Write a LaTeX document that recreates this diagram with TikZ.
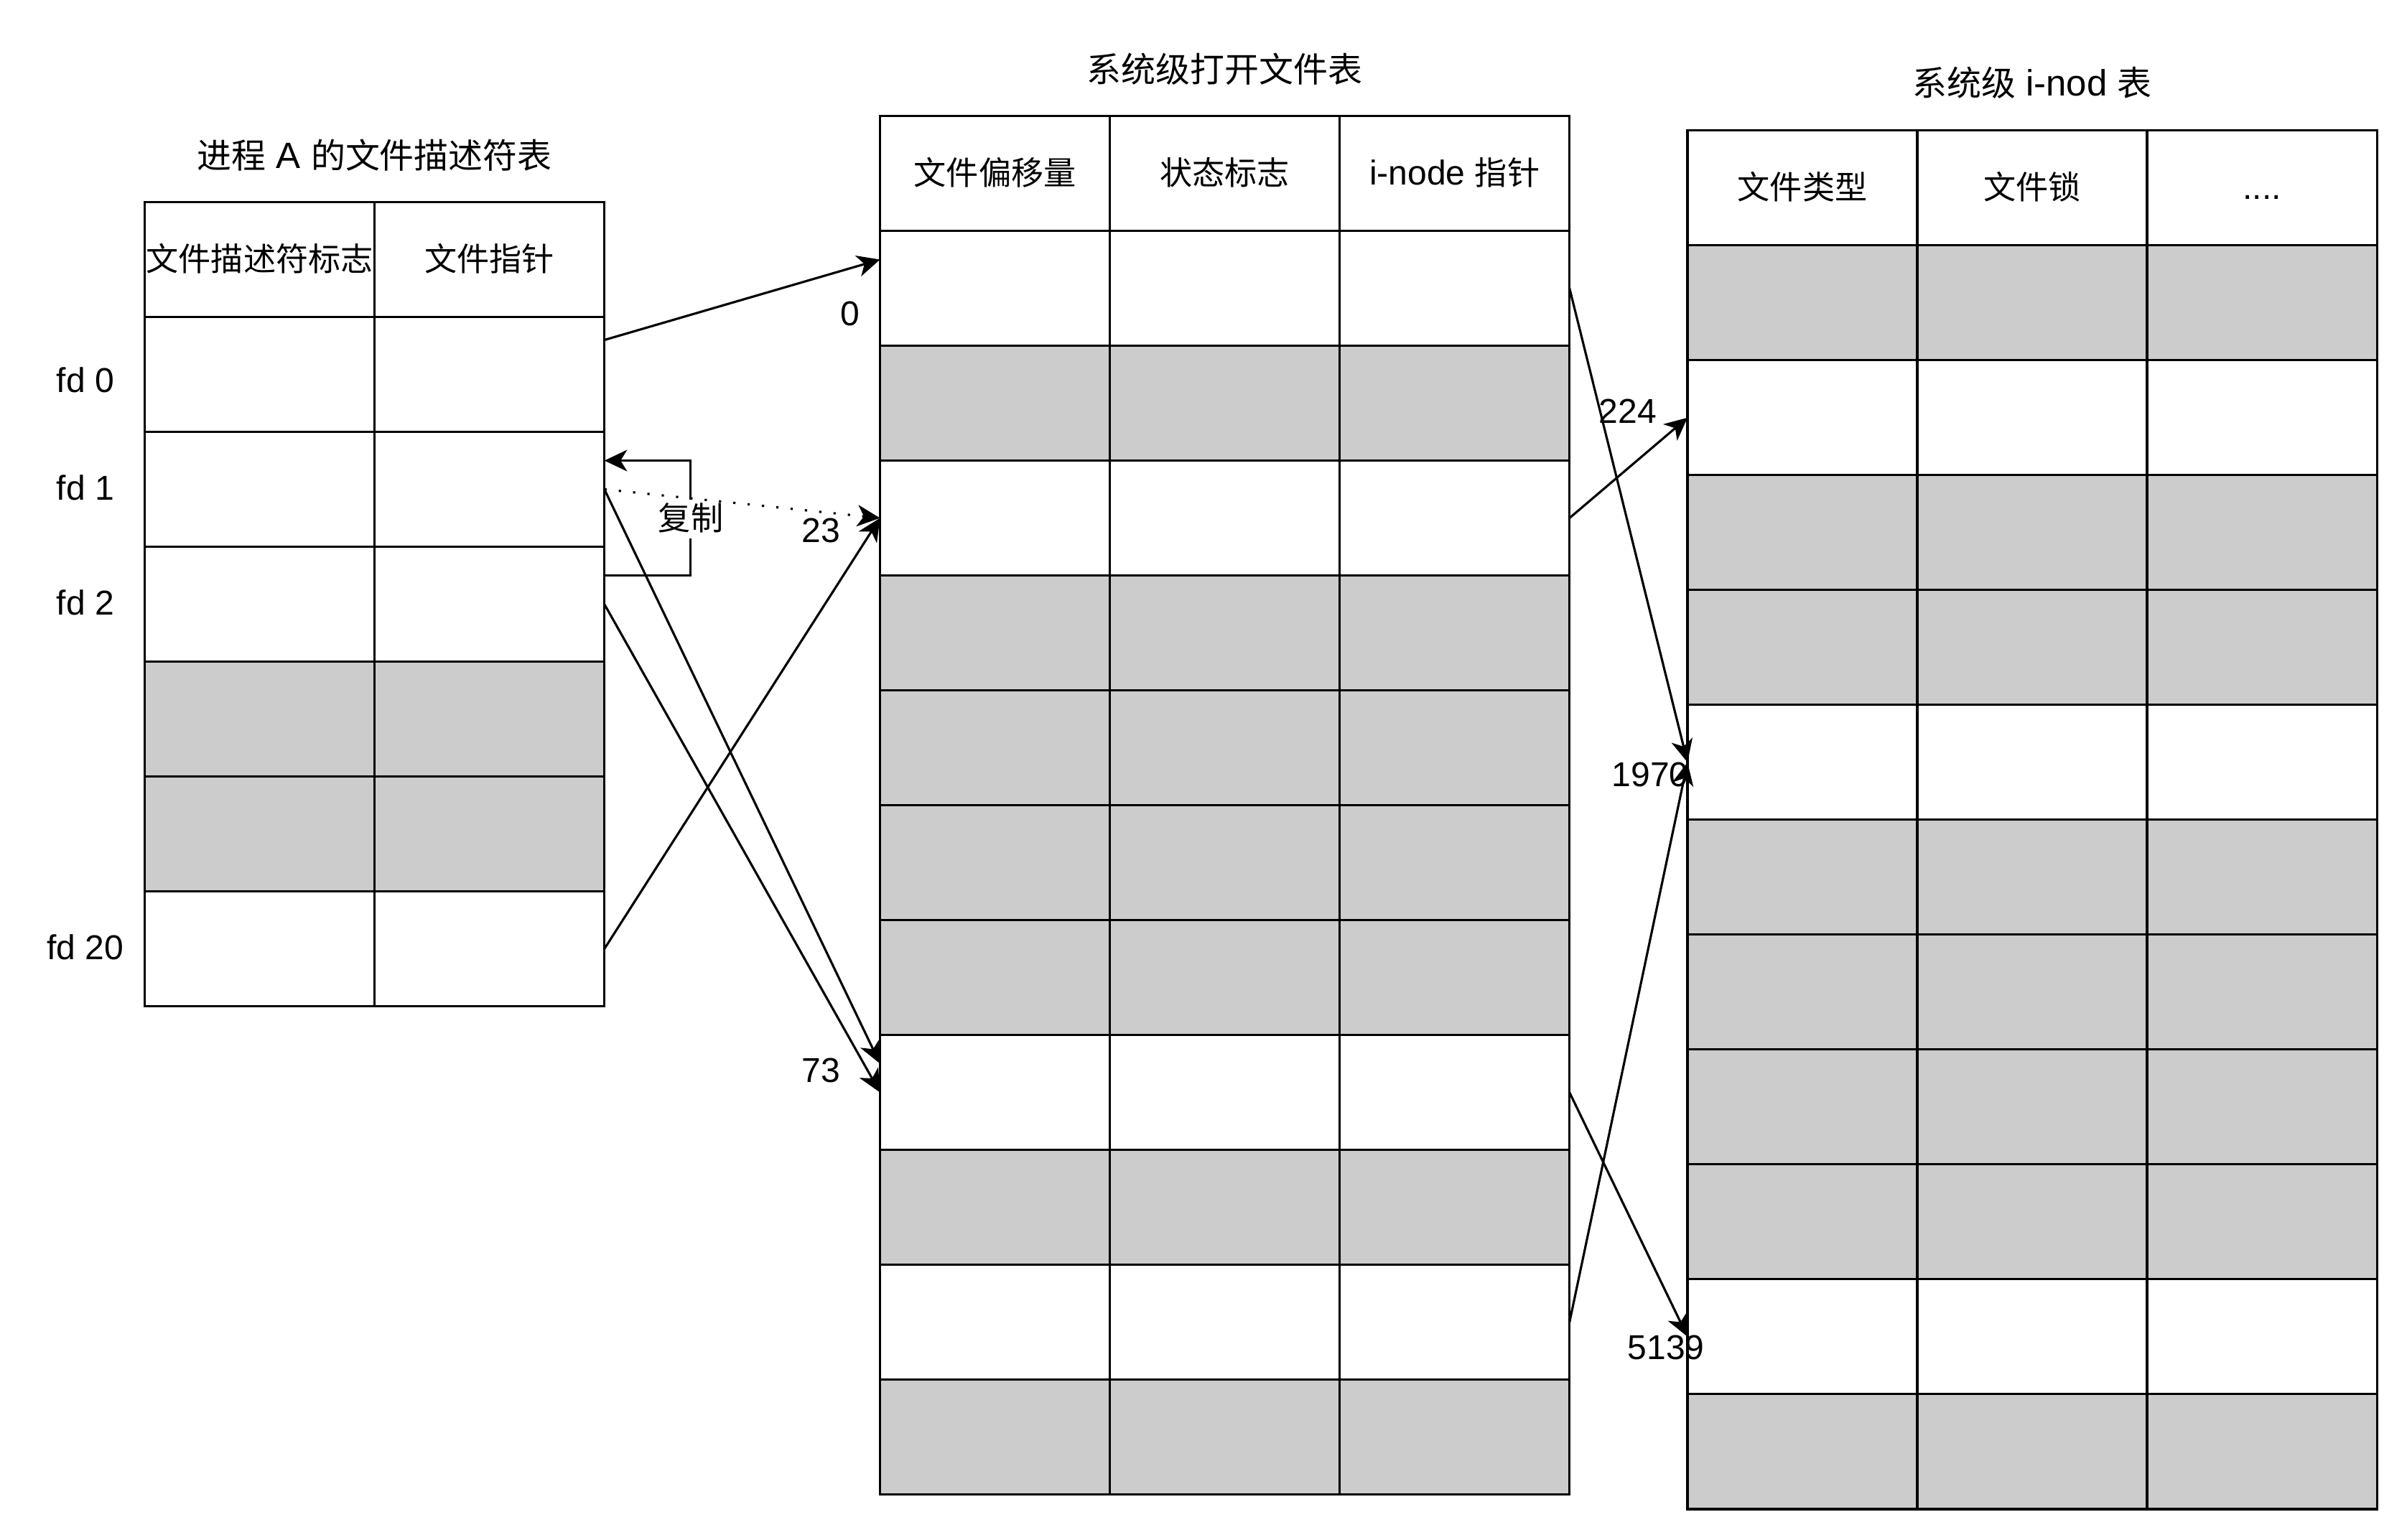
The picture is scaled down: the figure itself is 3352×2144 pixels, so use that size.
\documentclass[tikz,border=0pt]{standalone}
\usepackage{fontspec}
\setmainfont{Liberation Sans}
\newfontfamily\cjk[Scale=0.94]{Noto Sans CJK SC}
\usetikzlibrary{arrows.meta,calc}
\definecolor{cellgray}{HTML}{CCCCCC}
\tikzset{
  txt/.style={font=\fontsize{13.66pt}{16pt}\selectfont, text height=11.3pt, text depth=2.3pt, inner sep=0pt},
  ttl/.style={font=\fontsize{14.5pt}{17pt}\selectfont, text height=12pt, text depth=2.5pt, inner sep=0pt},
  cell/.style={txt, draw=black, line width=0.95pt, minimum width=3.2cm, minimum height=1.6cm, anchor=north west, outer sep=0pt},
  arr/.style={-{Stealth[length=9pt,width=8.5pt,inset=2.6pt]}, line width=0.9pt, draw=black},
  dotarr/.style={arr, dash pattern=on 0.9pt off 4.8pt},
  lbl/.style={txt},
}
\begin{document}
\begin{tikzpicture}[x=0.01cm,y=-0.01cm]
\useasboundingbox (0,0) rectangle (3352,2144);

% ---------- left table: process A fd table ----------
\node[cell] (L-0-0) at (201.5,281.5) {{\cjk 文件描述符标志}};
\node[cell] (L-0-1) at (521.5,281.5) {{\cjk 文件指针}};
\foreach \f [count=\r] in {white,white,white,cellgray,cellgray,white}{
  \foreach \c in {0,1}{
    \node[cell,fill=\f] (L-\r-\c) at ({201.5+320*\c},{281.5+160*\r}) {};
  }
}
\node[ttl] (tL) at (521.75,218) {{\cjk 进程} A {\cjk 的文件描述符表}};
\node[lbl] (fd0) at (119,531) {fd 0};
\node[lbl] (fd1) at (119,681) {fd 1};
\node[lbl] (fd2) at (119,841) {fd 2};
\node[lbl] (fd20) at (119,1321) {fd 20};

% ---------- middle table: open file table ----------
\node[cell] (M-0-0) at (1225.5,161.5) {{\cjk 文件偏移量}};
\node[cell] (M-0-1) at (1545.5,161.5) {{\cjk 状态标志}};
\node[cell] (M-0-2) at (1865.5,161.5) {i-node {\cjk 指针}};
\foreach \f [count=\r] in {white,cellgray,white,cellgray,cellgray,cellgray,cellgray,white,cellgray,white,cellgray}{
  \foreach \c in {0,1,2}{
    \node[cell,fill=\f] (M-\r-\c) at ({1225.5+320*\c},{161.5+160*\r}) {};
  }
}
\node[ttl] (tM) at (1705.5,98) {{\cjk 系统级打开文件表}};

% ---------- right table: i-node table ----------
\node[cell] (R-0-0) at (2350,181.7) {{\cjk 文件类型}};
\node[cell] (R-0-1) at (2670,181.7) {{\cjk 文件锁}};
\node[cell] (R-0-2) at (2990,181.7) {....};
\foreach \f [count=\r] in {cellgray,white,cellgray,cellgray,white,cellgray,cellgray,cellgray,cellgray,white,cellgray}{
  \foreach \c in {0,1,2}{
    \node[cell,fill=\f] (R-\r-\c) at ({2350+320*\c},{181.7+160*\r}) {};
  }
}
\node[ttl] (tR) at (2830,117) {{\cjk 系统级} i-nod {\cjk 表}};

% ---------- copy loop ----------
\draw[arr] ($(L-3-1.north east)!0.25!(L-3-1.south east)$) -- ++(120,0)
  |- ($(L-2-1.north east)!0.25!(L-2-1.south east)$);
\node[txt, fill=white, inner ysep=1pt] (cp) at (962,723) {{\cjk 复制}};

% ---------- fd table -> open file table ----------
\draw[arr] ($(L-1-1.north east)!0.2!(L-1-1.south east)$) -- ($(M-1-0.north west)!0.25!(M-1-0.south west)$);
\draw[dotarr] (L-2-1.east) -- (M-3-0.west);
\draw[arr] (L-2-1.east) -- ($(M-8-0.north west)!0.25!(M-8-0.south west)$);
\draw[arr] (L-3-1.east) -- (M-8-0.west);
\draw[arr] (L-6-1.east) -- (M-3-0.west);

% ---------- open file table -> i-node table ----------
\draw[arr] (M-1-2.east) -- (R-5-0.west);
\draw[arr] (M-3-2.east) -- (R-2-0.west);
\draw[arr] (M-8-2.east) -- (R-10-0.west);
\draw[arr] (M-10-2.east) -- (R-5-0.west);

% ---------- edge labels ----------
\node[lbl] (n0) at (1184,438) {0};
\node[lbl] (n23) at (1143,740) {23};
\node[lbl] (n73) at (1143,1492) {73};
\node[lbl] (n224) at (2267,574) {224};
\node[lbl] (n1970) at (2298,1080) {1970};
\node[lbl] (n5139) at (2320,1878) {5139};
\end{tikzpicture}
\end{document}
